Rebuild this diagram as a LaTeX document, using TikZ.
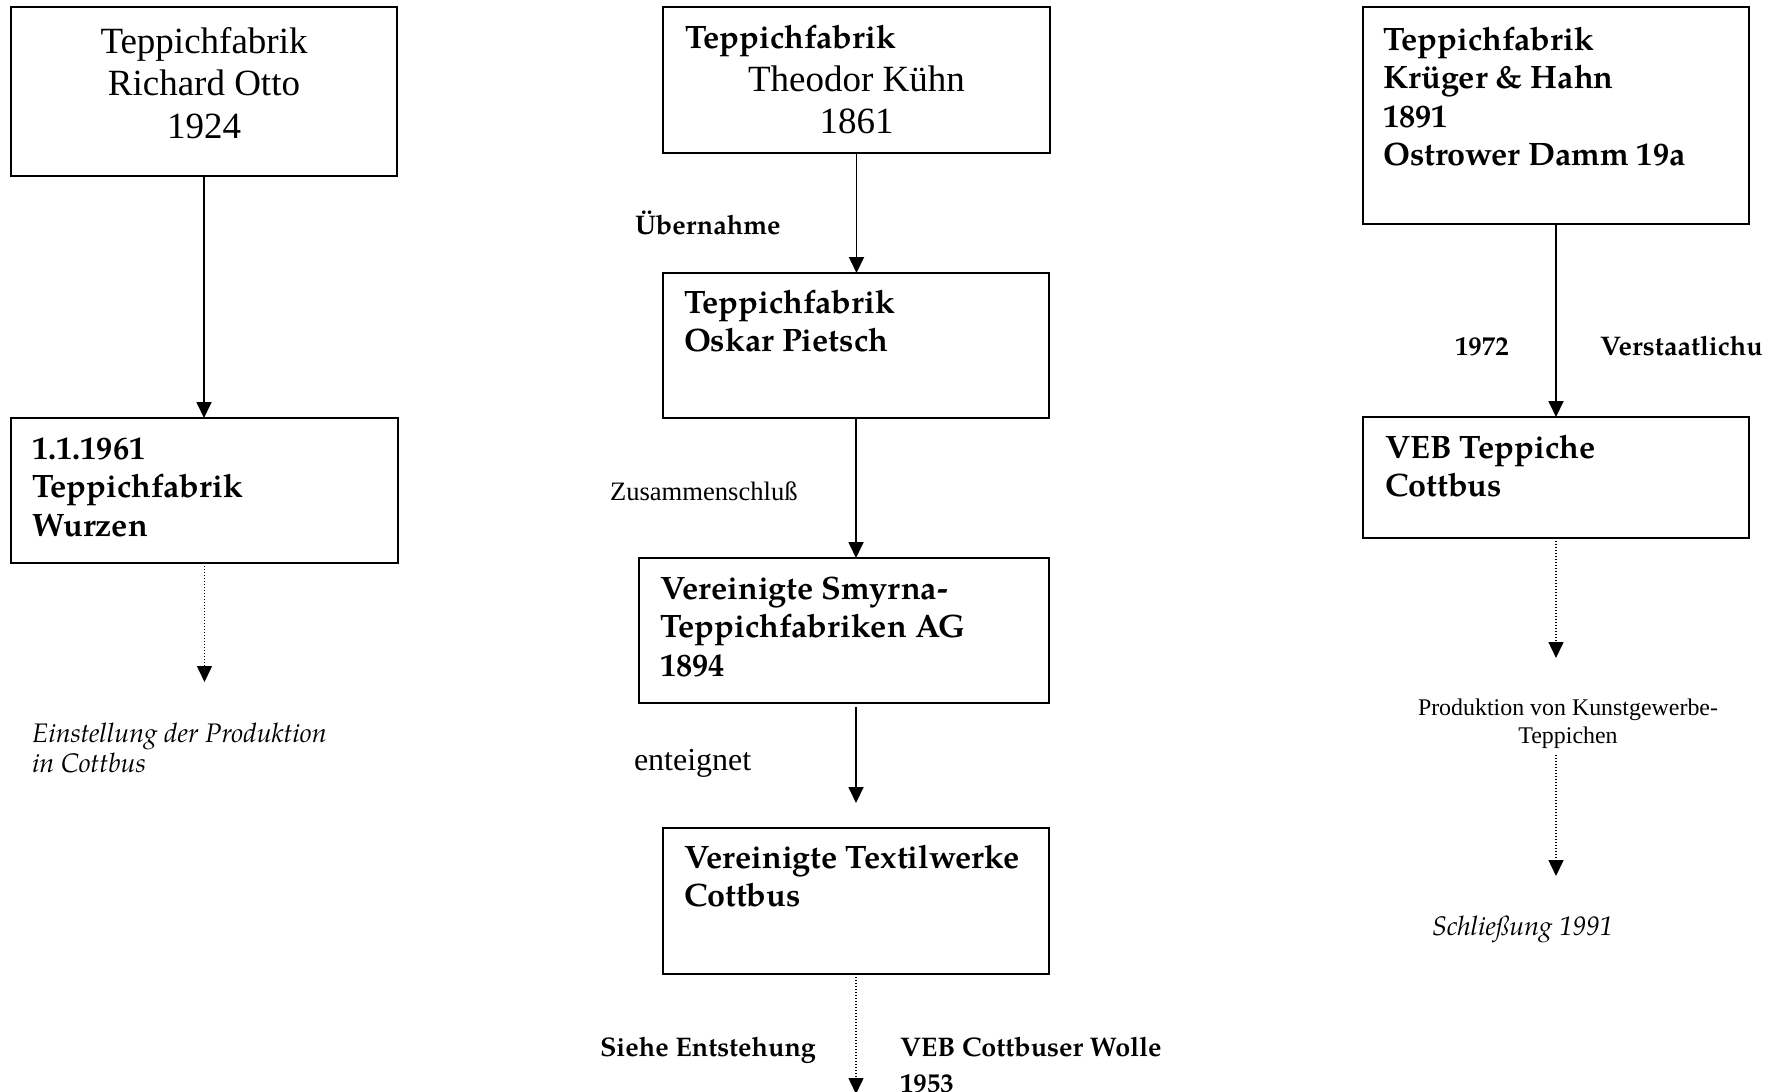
\documentclass[tikz,border=0pt]{standalone}
\usepackage{fontspec}
\setmainfont{Liberation Serif}
\newfontfamily\pal{TeX Gyre Pagella}
\usetikzlibrary{arrows.meta,calc}
\newcommand\mlines[2][l]{\begin{tabular}[t]{@{}#1@{}}#2\end{tabular}}
\begin{document}
\begin{tikzpicture}[x=1pt,y=-1pt,
  box/.style={draw, line width=1.9pt, inner sep=0pt, outer sep=0pt},
  txt/.style={inner sep=0pt, outer sep=0pt},
  bold/.style={txt, anchor=base west, font=\pal\bfseries\fontsize{32.4}{38.5}\selectfont},
  times/.style={txt, font=\fontsize{37}{42.5}\selectfont},
  small/.style={txt, anchor=base west, font=\pal\bfseries\fontsize{26.9}{36}\selectfont},
  ital/.style={txt, anchor=base west, font=\pal\itshape\fontsize{26.8}{30}\selectfont},
  conn/.style={line width=1.8pt, -{Triangle[width=15pt,length=16pt]}},
  dotconn/.style={conn, line width=1.5pt, dash pattern=on 1.4pt off 1.6pt}]
\useasboundingbox (0,0) rectangle (1772,1092);
\clip (0,0) rectangle (1772,1092);
\fill[white] (0,0) rectangle (1772,1092);

% boxes
\node[box, minimum width=386pt, minimum height=169pt] (A) at (204,91.5) {};
\node[box, minimum width=387pt, minimum height=145pt] (B) at (204.5,490.5) {};
\node[box, minimum width=387pt, minimum height=146pt] (C) at (856.5,80) {};
\node[box, minimum width=386pt, minimum height=145pt] (D) at (856,345.5) {};
\node[box, minimum width=410pt, minimum height=145pt] (E) at (844,630.5) {};
\node[box, minimum width=386pt, minimum height=146pt] (F) at (856,901) {};
\node[box, minimum width=386pt, minimum height=217pt] (G) at (1556,115.5) {};
\node[box, minimum width=386pt, minimum height=121pt] (H) at (1556,477.5) {};

% box texts
\node[times, anchor=base] (At) at (204,53) {\mlines[c]{Teppichfabrik\\Richard Otto\\1924}};
\node[bold] (Bt) at (32,459) {\mlines{1.1.1961\\Teppichfabrik\\Wurzen}};
\node[bold] (Ct1) at (685,48) {Teppichfabrik};
\node[times, anchor=base] (Ct2) at (856.5,91) {\mlines[c]{Theodor Kühn\\1861}};
\node[bold] (Dt) at (684,313) {\mlines{Teppichfabrik\\Oskar Pietsch}};
\node[bold] (Et) at (660,599) {\mlines{Vereinigte Smyrna-\\Teppichfabriken AG\\1894}};
\node[bold] (Ft) at (684,868) {\mlines{Vereinigte Textilwerke\\Cottbus}};
\node[bold] (Gt) at (1383,50) {\mlines{Teppichfabrik\\Krüger \& Hahn\\1891\\Ostrower Damm 19a}};
\node[bold] (Ht) at (1385,458) {\mlines{VEB Teppiche\\Cottbus}};

% labels
\node[small] (uebern) at (635,234) {Übernahme};
\node[txt, anchor=base west, font=\fontsize{26.6}{30}\selectfont] (zus) at (610,500) {Zusammenschluß};
\node[txt, anchor=base west, font=\fontsize{32}{38}\selectfont] (ent) at (634,770) {enteignet};
\node[small] (y1972) at (1455,355) {1972};
\node[small] (verst) at (1600,355) {Verstaatlichu};
\node[txt, anchor=base, font=\fontsize{23.9}{28}\selectfont] (prod) at (1568,715) {\mlines[c]{Produktion von Kunstgewerbe-\\Teppichen}};
\node[ital] (schl) at (1432,935) {Schließung 1991};
\node[ital] (einst) at (32,742) {\mlines{Einstellung der Produktion\\in Cottbus}};
\node[small] (siehe) at (600,1056) {Siehe Entstehung};
\node[small] (vebw) at (900,1056) {\mlines{VEB Cottbuser Wolle\\1953}};

% free ends
\coordinate (Bend) at (204.5,682);
\coordinate (Fend) at (856,1094);
\coordinate (Hend) at (1556,658);
\coordinate (P1) at (1556,755);
\coordinate (P2) at (1556,876);

% connectors
\draw[conn] (A.south) -- (A.south |- B.north);
\draw[dotconn] (B.south) -- (Bend);
\draw[conn] (C.south) -- (C.south |- D.north);
\draw[conn] (D.south) -- (D.south |- E.north);
\draw[conn] ($(F.north |- E.south)+(0,4)$) -- ($(F.north)+(0,-25)$);
\draw[dotconn] (F.south) -- (Fend);
\draw[conn] (G.south) -- (H.north);
\draw[dotconn] (H.south) -- (Hend);
\draw[dotconn] (P1) -- (P2);
\end{tikzpicture}
\end{document}
